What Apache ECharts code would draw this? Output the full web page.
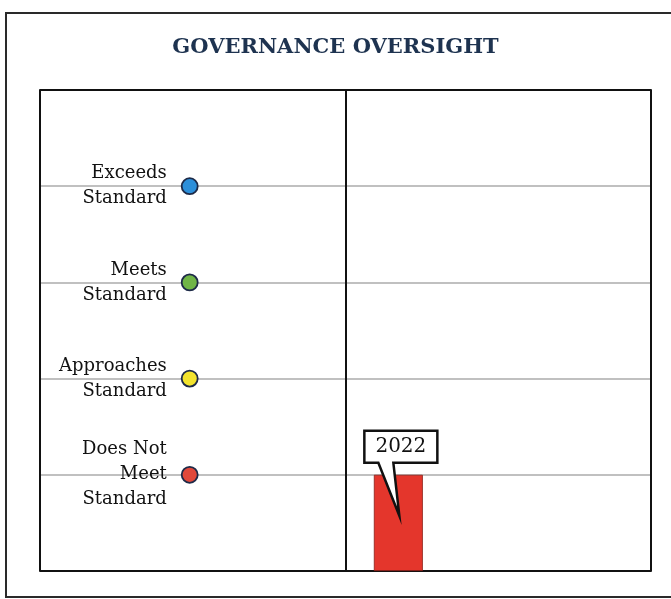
<!DOCTYPE html>
<html>
<head>
<meta charset="utf-8">
<script src="https://cdn.jsdelivr.net/npm/echarts@6/dist/echarts.min.js"></script>
<style>
  html, body { margin: 0; padding: 0; background: #fff; }
  #main { width: 671px; height: 599px; }
</style>
</head>
<body>
<div id="main"></div>
<script>
// rating levels, bottom to top
const levelNames = ['Does Not\nMeet\nStandard', 'Approaches\nStandard', 'Meets\nStandard', 'Exceeds\nStandard'];
const levelValues = [1, 2, 3, 4];
const levelColors = ['#e0483b', '#f2e32e', '#70b547', '#2c8fda'];

// rating received
const years = ['2022'];
const ratingValues = [1];

const SERIF = '"DejaVu Serif", "Liberation Serif", serif';

let myChart = echarts.init(document.getElementById('main'));

let dotData = levelValues.map((v, i) => ({
  value: [0.49, v],
  name: levelNames[i],
  itemStyle: { color: levelColors[i] }
}));

let option = {
  backgroundColor: '#fff',
  animation: false,
  title: {
    text: 'GOVERNANCE OVERSIGHT',
    left: 'center',
    top: 32,
    textStyle: { fontFamily: SERIF, fontSize: 21, fontWeight: 'bold', color: '#1e3350' }
  },
  graphic: [{
    type: 'rect',
    shape: { x: 6, y: 13, width: 720, height: 584 },
    style: { fill: 'none', stroke: '#2a2a2a', lineWidth: 2 }
  }],
  grid: { left: 40, right: 20, top: 90, bottom: 28 },
  xAxis: [{
    type: 'value', min: 0, max: 2, interval: 1, z: 2,
    axisLine: { show: true, onZero: false, lineStyle: { color: '#111', width: 2 } },
    axisTick: { show: false }, axisLabel: { show: false },
    splitLine: { show: true, lineStyle: { color: '#111', width: 2 } }
  }, {
    type: 'value', min: 0, max: 2, position: 'top', z: 3,
    axisLine: { show: true, onZero: false, lineStyle: { color: '#111', width: 2 } },
    axisTick: { show: false }, axisLabel: { show: false }, splitLine: { show: false }
  }],
  yAxis: {
    type: 'value', min: 0, max: 5, interval: 1, z: 1,
    axisLine: { show: false }, axisTick: { show: false }, axisLabel: { show: false },
    splitLine: { show: true, lineStyle: { color: '#ababab', width: 1.5 } }
  },
  series: [{
    type: 'bar',
    z: 3,
    barWidth: 49,
    itemStyle: { color: '#e4362c', borderColor: '#8a1f18', borderWidth: 0.8 },
    data: ratingValues.map(v => [1.173, v])
  }, {
    type: 'custom',
    z: 5,
    data: ratingValues.map((v, i) => [1.173, v, years[i]]),
    renderItem(params, api) {
      let p = api.coord([api.value(0), api.value(1)]);
      let x = p[0], y = p[1];
      let L = x - 34, R = x + 39, T = y - 44, B = y - 12;
      return {
        type: 'group',
        children: [{
          type: 'polygon',
          shape: { points: [[L, T], [R, T], [R, B], [x - 5, B], [x + 1, y + 41], [x - 20, B], [L, B]] },
          style: { fill: '#fff', stroke: '#111', lineWidth: 2.5, lineJoin: 'miter' }
        }, {
          type: 'text',
          style: {
            text: years[params.dataIndex],
            x: (L + R) / 2, y: (T + B) / 2,
            align: 'center', verticalAlign: 'middle',
            font: '20px ' + SERIF, fill: '#111'
          }
        }]
      };
    }
  }, {
    type: 'scatter',
    z: 4,
    symbolSize: 16,
    itemStyle: { opacity: 1, borderColor: '#1d2a48', borderWidth: 1.8 },
    label: {
      show: true,
      position: 'left',
      distance: 14,
      align: 'right',
      formatter: p => p.name,
      fontFamily: SERIF,
      fontSize: 18,
      lineHeight: 25,
      color: '#111'
    },
    data: dotData
  }]
};

myChart.setOption(option);
</script>
</body>
</html>
